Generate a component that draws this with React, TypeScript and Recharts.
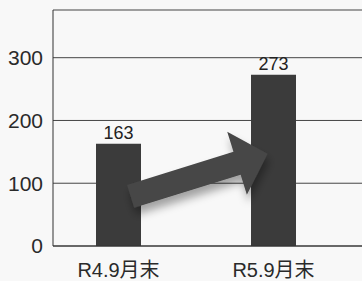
import { Bar, BarChart, CartesianGrid, LabelList, XAxis, YAxis } from "recharts"

const categories = ["R4.9月末", "R5.9月末"]
const counts = [163, 273]
const yTicks = [0, 100, 200, 300]
const yMax = 376

// decorative arrow anchors (in value units)
const arrowFrom = 79
const arrowTo = 147

const data = categories.map((name, i) => ({ name, value: counts[i] }))

const W = 362
const H = 281
const LEFT = 53
const TOP = 10
const BOTTOM = 246
const PAD_L = -12
const PAD_R = 11
const STEP = (W - LEFT - PAD_L - PAD_R) / categories.length

const yPix = (v: number) => BOTTOM - (v / yMax) * (BOTTOM - TOP)

function Arrow(props: any) {
  const { x, width, index } = props
  if (index !== 0) return null
  const x0 = Number(x)
  const w = Number(width)
  const t = { x: x0 + w * 0.77, y: yPix(arrowFrom) }
  const p = { x: x0 + STEP + 16.6, y: yPix(arrowTo) }
  const len = Math.hypot(p.x - t.x, p.y - t.y)
  const d = { x: (p.x - t.x) / len, y: (p.y - t.y) / len }
  const n = { x: -d.y, y: d.x }
  const shaft = 12
  const head = 33
  const headLen = 32
  const b = { x: p.x - d.x * headLen, y: p.y - d.y * headLen }
  const pts = [
    [t.x + n.x * shaft, t.y + n.y * shaft],
    [b.x + n.x * shaft, b.y + n.y * shaft],
    [b.x + n.x * head, b.y + n.y * head],
    [p.x, p.y],
    [b.x - n.x * head, b.y - n.y * head],
    [b.x - n.x * shaft, b.y - n.y * shaft],
    [t.x - n.x * shaft, t.y - n.y * shaft],
  ]
    .map((q) => q.join(","))
    .join(" ")
  return (
    <g>
      <defs>
        <filter id="arrowShadow" x="-20%" y="-20%" width="140%" height="160%">
          <feDropShadow dx="2" dy="7" stdDeviation="4" floodColor="#000" floodOpacity="0.35" />
        </filter>
      </defs>
      <polygon points={pts} fill="#474747" filter="url(#arrowShadow)" />
    </g>
  )
}

export default function App() {
  return (
    <div
      style={{
        position: "absolute",
        left: 0,
        top: 0,
        width: W,
        height: H,
        background: "#f8f8f8",
        fontFamily: '"Liberation Sans", Arial, "Noto Sans CJK JP", sans-serif',
      }}
    >
      <BarChart width={W} height={H} data={data} margin={{ top: TOP, right: 0, left: 0, bottom: 5 }}>
        <CartesianGrid vertical={false} stroke="#444" />
        <XAxis
          dataKey="name"
          padding={{ left: PAD_L, right: PAD_R }}
          axisLine={{ stroke: "#333" }}
          tickLine={false}
          tickSize={0}
          tickMargin={17}
          tick={{ fontSize: 20, fill: "#2a2a2a" }}
          height={30}
        />
        <YAxis
          width={LEFT}
          domain={[0, yMax]}
          ticks={yTicks}
          axisLine={{ stroke: "#333" }}
          tickLine={false}
          tickSize={0}
          tickMargin={10}
          tick={{ fontSize: 21, fill: "#2a2a2a" }}
        />
        <Bar dataKey="value" fill="#3b3b3b" barSize={45} isAnimationActive={false}>
          <LabelList dataKey="value" position="top" offset={5} fontSize={18} fill="#222" />
          <LabelList dataKey="value" content={Arrow} />
        </Bar>
      </BarChart>
    </div>
  )
}
